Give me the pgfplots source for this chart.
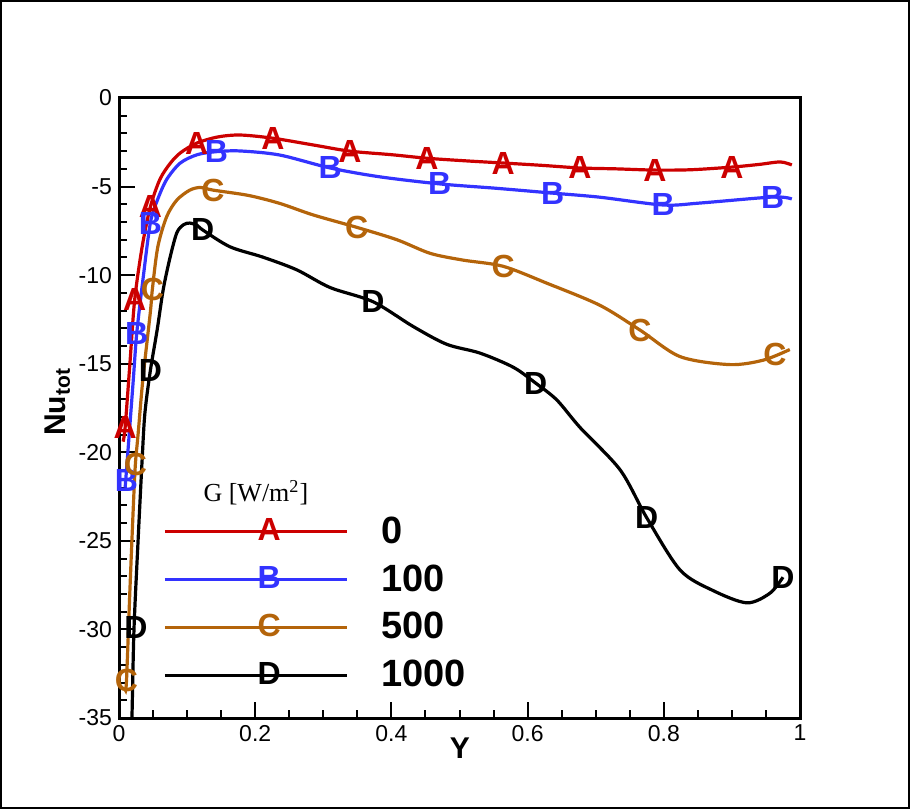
\documentclass[border=0pt]{standalone}
\usepackage{fontspec}
\setmainfont{Liberation Sans}
\newfontfamily\seriffont{Liberation Serif}
\usepackage{pgfplots}
\pgfplotsset{compat=1.18}
\definecolor{cA}{RGB}{204,0,0}
\definecolor{cB}{RGB}{51,51,255}
\definecolor{cC}{RGB}{180,100,10}
\definecolor{cD}{RGB}{0,0,0}
\newcommand\mk{\fontsize{16}{17}\selectfont\bfseries}
\begin{document}
\begin{tikzpicture}
\path[use as bounding box] (0,0) rectangle (455pt,404.5pt);
\draw[line width=1pt] (0.5pt,0.5pt) rectangle (454.5pt,404pt);
\begin{axis}[
  at={(59.5pt,45.5pt)}, anchor=south west,
  scale only axis, width=340.5pt, height=310pt,
  xmin=0, xmax=1, ymin=-35, ymax=0,
  xtick={0,0.2,0.4,0.6,0.8,1}, ytick={-35,-30,-25,-20,-15,-10,-5,0},
  minor x tick num=3, minor y tick num=4,
  tick align=inside, tick pos=left,
  major tick length=8pt, minor tick length=4pt,
  every tick/.style={black, line width=1pt},
  axis line style={line width=1.5pt},
  ticklabel style={font=\fontsize{11.5}{13}\selectfont},
  /pgf/number format/assume math mode=true,
  xlabel={\textbf{Y}},
  xlabel style={at={(axis description cs:0.5007,-0.0306)}, anchor=north, inner sep=0pt, font=\fontsize{15}{16}\selectfont},
  ylabel={\textbf{Nu\textsubscript{tot}}},
  ylabel style={at={(axis description cs:-0.0903,0.51)}, anchor=center, inner sep=0pt, font=\fontsize{15}{16}\selectfont},
  legend image code/.code={\draw[mark repeat=2,mark phase=2,#1] plot coordinates {(0pt,0pt) (45.5pt,0pt) (91pt,0pt)};},
  legend cell align=left,
  legend style={at={(axis description cs:0.0646,0.3255)}, anchor=north west, draw=none, fill=none, inner sep=0pt,
    font=\fontsize{19}{20}\selectfont\bfseries, row sep=9.2pt, nodes={inner sep=0pt},
    /tikz/every odd column/.append style={column sep=16.5pt}},
]
% A: G=0
\addplot[cA, line width=1.6pt, smooth, forget plot] coordinates {
(0.006,-19.4) (0.009,-18.6) (0.016,-15.0) (0.023,-11.4) (0.034,-8.4) (0.046,-6.15)
(0.06,-4.6) (0.075,-3.7) (0.09,-3.1) (0.114,-2.55) (0.145,-2.2) (0.178,-2.09)
(0.226,-2.27) (0.285,-2.65) (0.339,-3.0) (0.40,-3.2) (0.452,-3.4) (0.51,-3.55)
(0.564,-3.67) (0.62,-3.8) (0.677,-3.95) (0.73,-4.0) (0.787,-4.07) (0.84,-4.05)
(0.90,-3.9) (0.94,-3.75) (0.971,-3.61) (0.988,-3.78)};
\addplot[only marks, mark=text, text mark={A}, text mark as node=true, text mark style={font=\mk, text=cA, inner sep=0pt}, forget plot] coordinates {
(0.009,-18.6) (0.023,-11.4) (0.046,-6.15) (0.114,-2.55) (0.226,-2.27) (0.339,-3.0)
(0.452,-3.4) (0.564,-3.67) (0.677,-3.95) (0.787,-4.07) (0.90,-3.9)};
% B: G=100
\addplot[cB, line width=1.6pt, smooth, forget plot] coordinates {
(0.009,-22.0) (0.013,-20.0) (0.021,-15.9) (0.026,-13.3) (0.035,-10.3) (0.046,-7.06)
(0.056,-5.8) (0.07,-4.6) (0.09,-3.67) (0.115,-3.2) (0.143,-3.03) (0.178,-2.99)
(0.236,-3.22) (0.31,-3.95) (0.383,-4.45) (0.471,-4.85) (0.555,-5.1) (0.637,-5.37)
(0.706,-5.6) (0.799,-6.04) (0.853,-5.93) (0.96,-5.59) (0.988,-5.7)};
\addplot[only marks, mark=text, text mark={B}, text mark as node=true, text mark style={font=\mk, text=cB, inner sep=0pt}, forget plot] coordinates {
(0.011,-21.6) (0.026,-13.3) (0.046,-7.06) (0.143,-3.03) (0.31,-3.95) (0.471,-4.85)
(0.637,-5.37) (0.799,-6.04) (0.96,-5.59)};
% C: G=500
\addplot[cC, line width=1.6pt, smooth, forget plot] coordinates {
(0.009,-33.4) (0.011,-32.9) (0.016,-27.8) (0.021,-23.1) (0.024,-20.7) (0.028,-19.0)
(0.035,-15.9) (0.046,-12.1) (0.049,-10.8) (0.057,-8.4) (0.07,-6.7) (0.085,-5.76)
(0.104,-5.2) (0.12,-5.05) (0.138,-5.2) (0.19,-5.5) (0.236,-5.95) (0.285,-6.6) (0.349,-7.3)
(0.408,-8.0) (0.457,-8.77) (0.505,-9.15) (0.564,-9.5) (0.628,-10.45) (0.706,-11.7)
(0.765,-13.1) (0.824,-14.6) (0.897,-15.05) (0.946,-14.8) (0.985,-14.2)};
\addplot[only marks, mark=text, text mark={C}, text mark as node=true, text mark style={font=\mk, text=cC, inner sep=0pt}, forget plot] coordinates {
(0.011,-32.9) (0.024,-20.7) (0.049,-10.8) (0.138,-5.2) (0.349,-7.3) (0.564,-9.5)
(0.765,-13.1) (0.963,-14.5)};
% D: G=1000
\addplot[cD, line width=1.6pt, smooth, forget plot] coordinates {
(0.017,-37.0) (0.019,-35.0) (0.022,-30.0) (0.028,-25.0) (0.034,-20.4) (0.038,-17.8)
(0.046,-15.4) (0.056,-13.1) (0.065,-10.8) (0.075,-9.0) (0.085,-7.6) (0.095,-7.15)
(0.104,-7.06) (0.115,-7.2) (0.123,-7.45) (0.163,-8.4) (0.211,-8.98) (0.261,-9.7)
(0.31,-10.7) (0.373,-11.5) (0.432,-12.9) (0.481,-13.9) (0.530,-14.4) (0.579,-15.2)
(0.612,-16.1) (0.643,-17.05) (0.677,-18.6) (0.736,-21.0) (0.775,-23.7) (0.824,-26.65)
(0.872,-27.8) (0.922,-28.5) (0.956,-27.95) (0.975,-27.05)};
\addplot[only marks, mark=text, text mark={D}, text mark as node=true, text mark style={font=\mk, text=cD, inner sep=0pt}, forget plot] coordinates {
(0.025,-29.9) (0.046,-15.4) (0.123,-7.45) (0.373,-11.5) (0.612,-16.1) (0.775,-23.7) (0.975,-27.05)};
% legend
\addlegendimage{cA, line width=1.6pt, mark=text, text mark={A}, text mark as node=true, text mark style={font=\mk, text=cA, inner sep=0pt}}
\addlegendentry{0}
\addlegendimage{cB, line width=1.6pt, mark=text, text mark={B}, text mark as node=true, text mark style={font=\mk, text=cB, inner sep=0pt}}
\addlegendentry{100}
\addlegendimage{cC, line width=1.6pt, mark=text, text mark={C}, text mark as node=true, text mark style={font=\mk, text=cC, inner sep=0pt}}
\addlegendentry{500}
\addlegendimage{cD, line width=1.6pt, mark=text, text mark={D}, text mark as node=true, text mark style={font=\mk, text=cD, inner sep=0pt}}
\addlegendentry{1000}
\node[font=\seriffont\fontsize{13}{14}\selectfont, inner sep=0pt] at (axis cs:0.201,-22.3) {G [W/m\textsuperscript{2}]};
\end{axis}
\end{tikzpicture}
\end{document}
